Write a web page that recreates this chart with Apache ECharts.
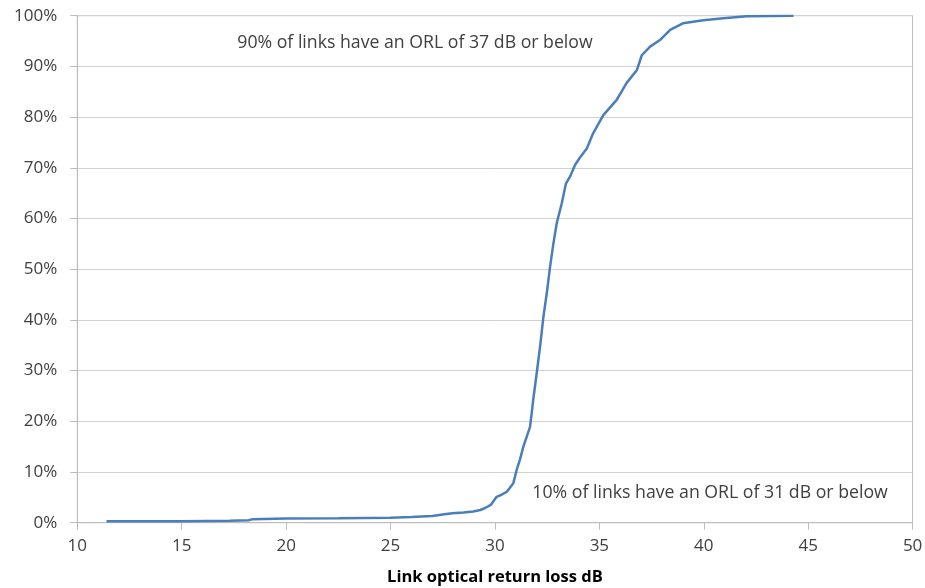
<!DOCTYPE html>
<html>
<head>
<meta charset="utf-8">
<script src="https://cdn.jsdelivr.net/npm/echarts@6/dist/echarts.min.js"></script>
<style>
html,body{margin:0;padding:0;background:#fff;}
#chart{width:925px;height:588px;}
</style>
</head>
<body>
<div id="chart"></div>
<script>
// Link optical return loss (dB) — cumulative share of links (%)
const orlDb = [11.4, 13, 15, 17.3, 18.2, 18.4, 20, 22.5, 25, 26, 27, 27.5, 27.95, 28.5, 28.96, 29.3, 29.53, 29.8, 30.08, 30.3, 30.57, 30.88, 31.04, 31.2, 31.36, 31.68, 31.76, 31.84, 32.0, 32.16, 32.32, 32.48, 32.64, 32.8, 32.96, 33.2, 33.4, 33.6, 33.84, 34.1, 34.4, 34.7, 35.19, 35.83, 36.3, 36.8, 37.03, 37.43, 37.9, 38.39, 39.0, 39.98, 40.94, 42.06, 44.3];
const cumulativePct = [0.3, 0.3, 0.3, 0.4, 0.5, 0.7, 0.85, 0.9, 1.0, 1.1, 1.3, 1.6, 1.85, 2.0, 2.2, 2.5, 2.9, 3.5, 5.1, 5.5, 6.1, 7.8, 10.4, 12.5, 15, 18.9, 21.6, 24.5, 29.5, 34.7, 40.6, 45.2, 50.5, 55.1, 59.1, 63, 66.9, 68.3, 70.6, 72.2, 73.8, 76.8, 80.4, 83.4, 86.7, 89.3, 92.2, 93.9, 95.2, 97.2, 98.5, 99.1, 99.5, 99.9, 100];

const xTicks = [10, 15, 20, 25, 30, 35, 40, 45, 50];
const yTicks = [0, 10, 20, 30, 40, 50, 60, 70, 80, 90, 100];

const notes = [
  {text: '90% of links have an ORL of 37 dB or below', x: 26.17, y: 94.6},
  {text: '10% of links have an ORL of 31 dB or below', x: 40.3, y: 5.9}
];

const xName = 'Link optical return loss dB';

const chart = echarts.init(document.getElementById('chart'), null, {renderer: 'canvas'});
const font = '"Open Sans", Lato, sans-serif';
const textColor = '#404040';

chart.setOption({
  animation: false,
  backgroundColor: '#ffffff',
  grid: {
    left: 77.3, right: 12.4, top: 15.7, bottom: 65.3,
    show: true, borderColor: '#bcbcbc', borderWidth: 1,
    containLabel: false, outerBoundsMode: 'none'
  },
  xAxis: {
    type: 'value',
    min: xTicks[0], max: xTicks[xTicks.length - 1], interval: 5,
    name: xName, nameLocation: 'middle', nameGap: 46,
    nameTextStyle: {fontFamily: font, fontSize: 16.5, fontWeight: 'bold', color: '#000'},
    axisLine: {show: true, lineStyle: {color: '#bcbcbc', width: 1}},
    axisTick: {show: true, inside: false, length: 7, lineStyle: {color: '#bcbcbc'}},
    axisLabel: {margin: 15, fontFamily: font, fontSize: 17, color: textColor},
    splitLine: {show: false}
  },
  yAxis: {
    type: 'value',
    min: yTicks[0], max: yTicks[yTicks.length - 1], interval: 10,
    axisLine: {show: true, lineStyle: {color: '#bcbcbc', width: 1}},
    axisTick: {show: true, inside: false, length: 7, lineStyle: {color: '#bcbcbc'}},
    axisLabel: {margin: 20, fontFamily: font, fontSize: 17, color: textColor, formatter: '{value}%'},
    splitLine: {show: true, lineStyle: {color: '#d0d0d0', width: 1}}
  },
  series: [{
    type: 'line',
    data: orlDb.map((x, i) => [x, cumulativePct[i]]),
    showSymbol: false,
    lineStyle: {color: '#4a7ebb', width: 2.5},
    itemStyle: {color: '#4a7ebb'},
    markPoint: {
      symbol: 'circle', symbolSize: 0,
      label: {show: true, position: 'inside', fontFamily: font, fontSize: 17.7, color: textColor, formatter: p => p.name},
      data: notes.map(n => ({name: n.text, coord: [n.x, n.y], value: n.text}))
    }
  }]
});
</script>
</body>
</html>
